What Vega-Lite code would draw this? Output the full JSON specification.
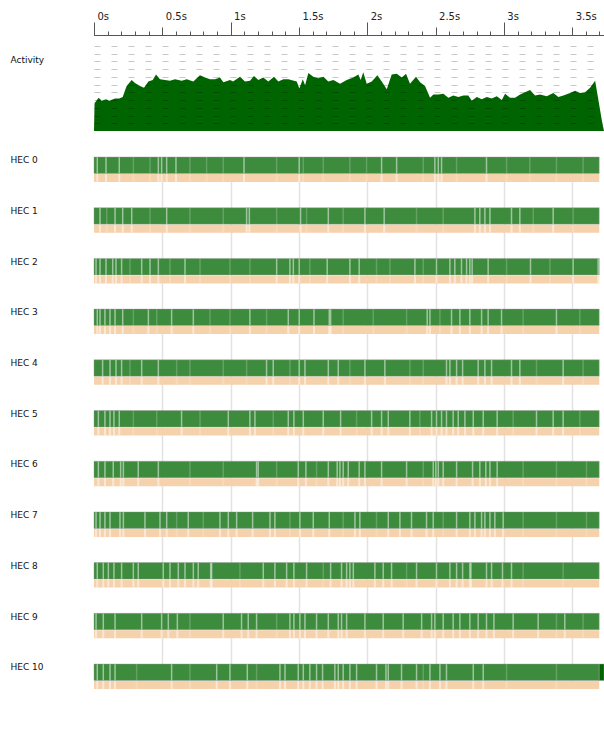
{
  "$schema": "https://vega.github.io/schema/vega-lite/v6.json",
  "autosize": {"type": "none"},
  "padding": {"left": 94, "top": 35, "right": 0, "bottom": 0},
  "width": 510,
  "height": 713,
  "background": "#ffffff",
  "config": {
    "view": {"stroke": null},
    "axis": {"labelFont": "DejaVu Sans", "titleFont": "DejaVu Sans", "labelColor": "#222222"}
  },
  "datasets": {
    "activity": [
      {"t":0,"v":0},{"t":0.004,"v":3.6},{"t":0.034,"v":4.3},{"t":0.056,"v":3.9},{"t":0.088,"v":4.1},{"t":0.112,"v":3.9},{"t":0.154,"v":4.2},{"t":0.185,"v":4.2},{"t":0.21,"v":4.4},{"t":0.239,"v":5.8},{"t":0.276,"v":6.6},{"t":0.30,"v":6.2},{"t":0.337,"v":5.8},{"t":0.366,"v":5.6},{"t":0.398,"v":6.4},{"t":0.43,"v":6.6},{"t":0.454,"v":7.3},{"t":0.483,"v":6.7},{"t":0.52,"v":6.6},{"t":0.556,"v":6.5},{"t":0.593,"v":6.7},{"t":0.642,"v":6.5},{"t":0.679,"v":6.7},{"t":0.727,"v":6.4},{"t":0.776,"v":7.2},{"t":0.813,"v":6.9},{"t":0.849,"v":6.7},{"t":0.886,"v":6.7},{"t":0.922,"v":6.9},{"t":0.947,"v":6.3},{"t":0.996,"v":6.6},{"t":1.018,"v":6.4},{"t":1.069,"v":7.0},{"t":1.105,"v":6.4},{"t":1.142,"v":6.5},{"t":1.171,"v":7.1},{"t":1.203,"v":6.6},{"t":1.239,"v":6.9},{"t":1.276,"v":6.4},{"t":1.318,"v":7.0},{"t":1.349,"v":6.4},{"t":1.386,"v":6.7},{"t":1.422,"v":6.7},{"t":1.484,"v":6.4},{"t":1.503,"v":5.5},{"t":1.528,"v":6.7},{"t":1.545,"v":5.9},{"t":1.569,"v":7.5},{"t":1.605,"v":7.0},{"t":1.642,"v":6.8},{"t":1.679,"v":7.0},{"t":1.715,"v":6.4},{"t":1.752,"v":6.6},{"t":1.801,"v":6.1},{"t":1.85,"v":6.6},{"t":1.898,"v":6.9},{"t":1.935,"v":7.3},{"t":1.952,"v":6.6},{"t":1.971,"v":7.6},{"t":1.996,"v":6.1},{"t":2.033,"v":6.4},{"t":2.074,"v":7.2},{"t":2.106,"v":6.4},{"t":2.143,"v":5.4},{"t":2.179,"v":7.3},{"t":2.216,"v":7.4},{"t":2.253,"v":6.9},{"t":2.284,"v":7.4},{"t":2.313,"v":6.1},{"t":2.357,"v":7.0},{"t":2.387,"v":6.3},{"t":2.423,"v":5.8},{"t":2.46,"v":4.3},{"t":2.484,"v":4.7},{"t":2.52,"v":4.7},{"t":2.557,"v":4.8},{"t":2.594,"v":4.3},{"t":2.63,"v":4.6},{"t":2.667,"v":4.4},{"t":2.704,"v":4.6},{"t":2.74,"v":4.6},{"t":2.765,"v":3.9},{"t":2.802,"v":4.4},{"t":2.838,"v":4.1},{"t":2.875,"v":4.4},{"t":2.911,"v":4.2},{"t":2.948,"v":4.5},{"t":2.985,"v":4.0},{"t":3.009,"v":4.8},{"t":3.045,"v":4.3},{"t":3.082,"v":4.3},{"t":3.119,"v":4.7},{"t":3.155,"v":5.0},{"t":3.192,"v":5.3},{"t":3.228,"v":4.6},{"t":3.265,"v":4.7},{"t":3.314,"v":4.5},{"t":3.362,"v":4.9},{"t":3.399,"v":4.4},{"t":3.436,"v":4.6},{"t":3.485,"v":4.9},{"t":3.521,"v":5.2},{"t":3.558,"v":4.9},{"t":3.594,"v":5.0},{"t":3.631,"v":5.6},{"t":3.668,"v":6.5},{"t":3.692,"v":4.0},{"t":3.717,"v":1.4},{"t":3.733,"v":0}
    ],
    "bars": [
      {"h":0,"start":0,"end":3.698,"state":"run"},{"h":1,"start":0,"end":3.698,"state":"run"},{"h":2,"start":0,"end":3.698,"state":"run"},{"h":3,"start":0,"end":3.698,"state":"run"},{"h":4,"start":0,"end":3.698,"state":"run"},{"h":5,"start":0,"end":3.698,"state":"run"},{"h":6,"start":0,"end":3.698,"state":"run"},{"h":7,"start":0,"end":3.698,"state":"run"},{"h":8,"start":0,"end":3.698,"state":"run"},{"h":9,"start":0,"end":3.698,"state":"run"},{"h":10,"start":0,"end":3.698,"state":"run"},{"h":10,"start":3.698,"end":3.733,"state":"busy"}
    ],
    "gaps": [
      {"h":0,"t":0.024,"s":1},{"h":0,"t":0.088,"s":1},{"h":0,"t":0.185,"s":1},{"h":0,"t":0.471,"s":1},{"h":0,"t":0.495,"s":1},{"h":0,"t":0.532,"s":1},{"h":0,"t":0.6,"s":1},{"h":0,"t":1.098,"s":1},{"h":0,"t":1.502,"s":1},{"h":0,"t":2.105,"s":1},{"h":0,"t":2.215,"s":1},{"h":0,"t":2.495,"s":1},{"h":0,"t":2.52,"s":1},{"h":0,"t":2.544,"s":1},{"h":0,"t":2.873,"s":1},
      {"h":0,"t":0.288,"s":0.4},{"h":0,"t":0.41,"s":0.4},{"h":0,"t":0.702,"s":0.4},{"h":0,"t":0.824,"s":0.4},{"h":0,"t":0.946,"s":0.4},{"h":0,"t":1.337,"s":0.4},{"h":0,"t":1.532,"s":0.4},{"h":0,"t":1.678,"s":0.4},{"h":0,"t":1.873,"s":0.4},{"h":0,"t":1.995,"s":0.4},{"h":0,"t":2.41,"s":0.4},{"h":0,"t":2.654,"s":0.4},{"h":0,"t":3.02,"s":0.4},{"h":0,"t":3.19,"s":0.4},{"h":0,"t":3.385,"s":0.4},{"h":0,"t":3.58,"s":0.4},
      {"h":1,"t":0.044,"s":1},{"h":1,"t":0.154,"s":1},{"h":1,"t":0.21,"s":1},{"h":1,"t":0.276,"s":1},{"h":1,"t":0.532,"s":1},{"h":1,"t":1.117,"s":1},{"h":1,"t":1.137,"s":1},{"h":1,"t":1.512,"s":1},{"h":1,"t":1.715,"s":1},{"h":1,"t":1.983,"s":1},{"h":1,"t":2.124,"s":1},{"h":1,"t":2.788,"s":1},{"h":1,"t":2.824,"s":1},{"h":1,"t":2.861,"s":1},{"h":1,"t":2.898,"s":1},{"h":1,"t":3.056,"s":1},{"h":1,"t":3.117,"s":1},{"h":1,"t":3.361,"s":1},
      {"h":1,"t":0.093,"s":0.4},{"h":1,"t":0.41,"s":0.4},{"h":1,"t":0.702,"s":0.4},{"h":1,"t":0.946,"s":0.4},{"h":1,"t":1.337,"s":0.4},{"h":1,"t":1.556,"s":0.4},{"h":1,"t":1.824,"s":0.4},{"h":1,"t":2.361,"s":0.4},{"h":1,"t":2.556,"s":0.4},{"h":1,"t":3.215,"s":0.4},{"h":1,"t":3.507,"s":0.4},
      {"h":2,"t":0.015,"s":1},{"h":2,"t":0.044,"s":1},{"h":2,"t":0.088,"s":1},{"h":2,"t":0.137,"s":1},{"h":2,"t":0.161,"s":1},{"h":2,"t":0.202,"s":1},{"h":2,"t":0.349,"s":1},{"h":2,"t":0.41,"s":1},{"h":2,"t":0.471,"s":1},{"h":2,"t":0.666,"s":1},{"h":2,"t":1.337,"s":1},{"h":2,"t":1.434,"s":1},{"h":2,"t":1.459,"s":1},{"h":2,"t":1.502,"s":1},{"h":2,"t":1.707,"s":1},{"h":2,"t":1.873,"s":1},{"h":2,"t":1.941,"s":1},{"h":2,"t":2.349,"s":1},{"h":2,"t":2.507,"s":1},{"h":2,"t":2.605,"s":1},{"h":2,"t":2.641,"s":1},{"h":2,"t":2.69,"s":1},{"h":2,"t":2.727,"s":1},{"h":2,"t":2.751,"s":1},{"h":2,"t":2.768,"s":1},{"h":2,"t":2.885,"s":1},{"h":2,"t":3.195,"s":1},{"h":2,"t":3.507,"s":1},{"h":2,"t":3.69,"s":1},
      {"h":2,"t":0.263,"s":0.4},{"h":2,"t":0.556,"s":0.4},{"h":2,"t":0.776,"s":0.4},{"h":2,"t":0.995,"s":0.4},{"h":2,"t":1.141,"s":0.4},{"h":2,"t":1.58,"s":0.4},{"h":2,"t":2.068,"s":0.4},{"h":2,"t":2.166,"s":0.4},{"h":2,"t":2.41,"s":0.4},{"h":2,"t":3.02,"s":0.4},{"h":2,"t":3.337,"s":0.4},
      {"h":3,"t":0.024,"s":1},{"h":3,"t":0.044,"s":1},{"h":3,"t":0.08,"s":1},{"h":3,"t":0.117,"s":1},{"h":3,"t":0.154,"s":1},{"h":3,"t":0.21,"s":1},{"h":3,"t":0.398,"s":1},{"h":3,"t":0.568,"s":1},{"h":3,"t":0.727,"s":1},{"h":3,"t":1.141,"s":1},{"h":3,"t":1.422,"s":1},{"h":3,"t":1.502,"s":1},{"h":3,"t":1.61,"s":1},{"h":3,"t":1.722,"s":1},{"h":3,"t":1.732,"s":1},{"h":3,"t":2.439,"s":1},{"h":3,"t":2.459,"s":1},{"h":3,"t":2.617,"s":1},{"h":3,"t":2.678,"s":1},{"h":3,"t":2.751,"s":1},{"h":3,"t":2.837,"s":1},{"h":3,"t":2.885,"s":1},{"h":3,"t":2.983,"s":1},{"h":3,"t":3.385,"s":1},
      {"h":3,"t":0.288,"s":0.4},{"h":3,"t":0.459,"s":0.4},{"h":3,"t":0.849,"s":0.4},{"h":3,"t":0.995,"s":0.4},{"h":3,"t":1.263,"s":0.4},{"h":3,"t":1.824,"s":0.4},{"h":3,"t":2.044,"s":0.4},{"h":3,"t":2.288,"s":0.4},{"h":3,"t":2.532,"s":0.4},{"h":3,"t":3.141,"s":0.4},{"h":3,"t":3.556,"s":0.4},
      {"h":4,"t":0.063,"s":1},{"h":4,"t":0.117,"s":1},{"h":4,"t":0.161,"s":1},{"h":4,"t":0.202,"s":1},{"h":4,"t":0.349,"s":1},{"h":4,"t":0.471,"s":1},{"h":4,"t":1.263,"s":1},{"h":4,"t":1.312,"s":1},{"h":4,"t":1.502,"s":1},{"h":4,"t":1.544,"s":1},{"h":4,"t":1.715,"s":1},{"h":4,"t":1.788,"s":1},{"h":4,"t":1.983,"s":1},{"h":4,"t":2.129,"s":1},{"h":4,"t":2.58,"s":1},{"h":4,"t":2.605,"s":1},{"h":4,"t":2.654,"s":1},{"h":4,"t":2.698,"s":1},{"h":4,"t":2.812,"s":1},{"h":4,"t":2.861,"s":1},{"h":4,"t":2.91,"s":1},{"h":4,"t":3.056,"s":1},{"h":4,"t":3.117,"s":1},{"h":4,"t":3.434,"s":1},
      {"h":4,"t":0.263,"s":0.4},{"h":4,"t":0.605,"s":0.4},{"h":4,"t":0.702,"s":0.4},{"h":4,"t":0.946,"s":0.4},{"h":4,"t":1.117,"s":0.4},{"h":4,"t":1.434,"s":0.4},{"h":4,"t":1.873,"s":0.4},{"h":4,"t":2.312,"s":0.4},{"h":4,"t":2.41,"s":0.4},{"h":4,"t":3.239,"s":0.4},{"h":4,"t":3.58,"s":0.4},
      {"h":5,"t":0.032,"s":1},{"h":5,"t":0.08,"s":1},{"h":5,"t":0.117,"s":1},{"h":5,"t":0.146,"s":1},{"h":5,"t":0.185,"s":1},{"h":5,"t":0.641,"s":1},{"h":5,"t":0.983,"s":1},{"h":5,"t":1.141,"s":1},{"h":5,"t":1.178,"s":1},{"h":5,"t":1.422,"s":1},{"h":5,"t":1.463,"s":1},{"h":5,"t":1.532,"s":1},{"h":5,"t":1.678,"s":1},{"h":5,"t":1.805,"s":1},{"h":5,"t":2.032,"s":1},{"h":5,"t":2.105,"s":1},{"h":5,"t":2.154,"s":1},{"h":5,"t":2.312,"s":1},{"h":5,"t":2.471,"s":1},{"h":5,"t":2.507,"s":1},{"h":5,"t":2.544,"s":1},{"h":5,"t":2.58,"s":1},{"h":5,"t":2.629,"s":1},{"h":5,"t":2.666,"s":1},{"h":5,"t":2.715,"s":1},{"h":5,"t":2.776,"s":1},{"h":5,"t":2.849,"s":1},{"h":5,"t":2.951,"s":1},{"h":5,"t":3.239,"s":1},{"h":5,"t":3.361,"s":1},{"h":5,"t":3.434,"s":1},
      {"h":5,"t":0.288,"s":0.4},{"h":5,"t":0.459,"s":0.4},{"h":5,"t":0.776,"s":0.4},{"h":5,"t":1.312,"s":0.4},{"h":5,"t":1.922,"s":0.4},{"h":5,"t":2.385,"s":0.4},{"h":5,"t":3.068,"s":0.4},{"h":5,"t":3.556,"s":0.4},
      {"h":6,"t":0.032,"s":1},{"h":6,"t":0.08,"s":1},{"h":6,"t":0.141,"s":1},{"h":6,"t":0.195,"s":1},{"h":6,"t":0.215,"s":1},{"h":6,"t":0.324,"s":1},{"h":6,"t":0.471,"s":1},{"h":6,"t":1.19,"s":1},{"h":6,"t":1.202,"s":1},{"h":6,"t":1.495,"s":1},{"h":6,"t":1.551,"s":1},{"h":6,"t":1.715,"s":1},{"h":6,"t":1.78,"s":1},{"h":6,"t":1.8,"s":1},{"h":6,"t":1.824,"s":1},{"h":6,"t":1.861,"s":1},{"h":6,"t":1.941,"s":1},{"h":6,"t":1.983,"s":1},{"h":6,"t":2.105,"s":1},{"h":6,"t":2.288,"s":1},{"h":6,"t":2.483,"s":1},{"h":6,"t":2.502,"s":1},{"h":6,"t":2.52,"s":1},{"h":6,"t":2.556,"s":1},{"h":6,"t":2.654,"s":1},{"h":6,"t":2.771,"s":1},{"h":6,"t":2.824,"s":1},{"h":6,"t":2.868,"s":1},{"h":6,"t":2.898,"s":1},{"h":6,"t":2.951,"s":1},
      {"h":6,"t":0.702,"s":0.4},{"h":6,"t":0.946,"s":0.4},{"h":6,"t":1.337,"s":0.4},{"h":6,"t":1.629,"s":0.4},{"h":6,"t":2.41,"s":0.4},{"h":6,"t":3.141,"s":0.4},{"h":6,"t":3.385,"s":0.4},{"h":6,"t":3.605,"s":0.4},
      {"h":7,"t":0.015,"s":1},{"h":7,"t":0.044,"s":1},{"h":7,"t":0.08,"s":1},{"h":7,"t":0.117,"s":1},{"h":7,"t":0.19,"s":1},{"h":7,"t":0.215,"s":1},{"h":7,"t":0.373,"s":1},{"h":7,"t":0.483,"s":1},{"h":7,"t":0.532,"s":1},{"h":7,"t":0.69,"s":1},{"h":7,"t":0.922,"s":1},{"h":7,"t":0.983,"s":1},{"h":7,"t":1.044,"s":1},{"h":7,"t":1.161,"s":1},{"h":7,"t":1.288,"s":1},{"h":7,"t":1.324,"s":1},{"h":7,"t":1.507,"s":1},{"h":7,"t":1.605,"s":1},{"h":7,"t":1.722,"s":1},{"h":7,"t":1.91,"s":1},{"h":7,"t":1.946,"s":1},{"h":7,"t":2.154,"s":1},{"h":7,"t":2.239,"s":1},{"h":7,"t":2.324,"s":1},{"h":7,"t":2.434,"s":1},{"h":7,"t":2.483,"s":1},{"h":7,"t":2.654,"s":1},{"h":7,"t":2.751,"s":1},{"h":7,"t":2.788,"s":1},{"h":7,"t":2.837,"s":1},{"h":7,"t":2.861,"s":1},{"h":7,"t":2.898,"s":1},{"h":7,"t":2.934,"s":1},{"h":7,"t":2.995,"s":1},
      {"h":7,"t":0.605,"s":0.4},{"h":7,"t":0.8,"s":0.4},{"h":7,"t":1.434,"s":0.4},{"h":7,"t":1.824,"s":0.4},{"h":7,"t":2.068,"s":0.4},{"h":7,"t":2.556,"s":0.4},{"h":7,"t":3.141,"s":0.4},{"h":7,"t":3.385,"s":0.4},{"h":7,"t":3.605,"s":0.4},
      {"h":8,"t":0.024,"s":1},{"h":8,"t":0.068,"s":1},{"h":8,"t":0.105,"s":1},{"h":8,"t":0.146,"s":1},{"h":8,"t":0.202,"s":1},{"h":8,"t":0.288,"s":1},{"h":8,"t":0.324,"s":1},{"h":8,"t":0.507,"s":1},{"h":8,"t":0.556,"s":1},{"h":8,"t":0.617,"s":1},{"h":8,"t":0.666,"s":1},{"h":8,"t":0.727,"s":1},{"h":8,"t":0.763,"s":1},{"h":8,"t":0.854,"s":1},{"h":8,"t":0.861,"s":1},{"h":8,"t":1.239,"s":1},{"h":8,"t":1.324,"s":1},{"h":8,"t":1.41,"s":1},{"h":8,"t":1.463,"s":1},{"h":8,"t":1.556,"s":1},{"h":8,"t":1.732,"s":1},{"h":8,"t":1.812,"s":1},{"h":8,"t":1.849,"s":1},{"h":8,"t":1.873,"s":1},{"h":8,"t":1.898,"s":1},{"h":8,"t":2.056,"s":1},{"h":8,"t":2.117,"s":1},{"h":8,"t":2.178,"s":1},{"h":8,"t":2.361,"s":1},{"h":8,"t":2.507,"s":1},{"h":8,"t":2.605,"s":1},{"h":8,"t":2.654,"s":1},{"h":8,"t":2.698,"s":1},{"h":8,"t":2.751,"s":1},{"h":8,"t":2.759,"s":1},{"h":8,"t":2.873,"s":1},{"h":8,"t":2.91,"s":1},{"h":8,"t":2.99,"s":1},{"h":8,"t":3.056,"s":1},
      {"h":8,"t":1.068,"s":0.4},{"h":8,"t":1.678,"s":0.4},{"h":8,"t":2.288,"s":0.4},{"h":8,"t":3.141,"s":0.4},{"h":8,"t":3.434,"s":0.4},
      {"h":9,"t":0.015,"s":1},{"h":9,"t":0.068,"s":1},{"h":9,"t":0.154,"s":1},{"h":9,"t":0.349,"s":1},{"h":9,"t":0.495,"s":1},{"h":9,"t":0.544,"s":1},{"h":9,"t":0.61,"s":1},{"h":9,"t":0.946,"s":1},{"h":9,"t":1.08,"s":1},{"h":9,"t":1.129,"s":1},{"h":9,"t":1.19,"s":1},{"h":9,"t":1.434,"s":1},{"h":9,"t":1.463,"s":1},{"h":9,"t":1.507,"s":1},{"h":9,"t":1.544,"s":1},{"h":9,"t":1.629,"s":1},{"h":9,"t":1.715,"s":1},{"h":9,"t":1.788,"s":1},{"h":9,"t":1.812,"s":1},{"h":9,"t":1.849,"s":1},{"h":9,"t":1.983,"s":1},{"h":9,"t":2.117,"s":1},{"h":9,"t":2.263,"s":1},{"h":9,"t":2.398,"s":1},{"h":9,"t":2.471,"s":1},{"h":9,"t":2.495,"s":1},{"h":9,"t":2.556,"s":1},{"h":9,"t":2.629,"s":1},{"h":9,"t":2.678,"s":1},{"h":9,"t":2.751,"s":1},{"h":9,"t":2.812,"s":1},{"h":9,"t":2.873,"s":1},{"h":9,"t":2.927,"s":1},{"h":9,"t":3.068,"s":1},{"h":9,"t":3.251,"s":1},{"h":9,"t":3.446,"s":1},
      {"h":9,"t":0.702,"s":0.4},{"h":9,"t":1.337,"s":0.4},{"h":9,"t":3.385,"s":0.4},{"h":9,"t":3.58,"s":0.4},
      {"h":10,"t":0.024,"s":1},{"h":10,"t":0.068,"s":1},{"h":10,"t":0.117,"s":1},{"h":10,"t":0.154,"s":1},{"h":10,"t":0.568,"s":1},{"h":10,"t":0.898,"s":1},{"h":10,"t":0.995,"s":1},{"h":10,"t":1.122,"s":1},{"h":10,"t":1.361,"s":1},{"h":10,"t":1.398,"s":1},{"h":10,"t":1.495,"s":1},{"h":10,"t":1.532,"s":1},{"h":10,"t":1.58,"s":1},{"h":10,"t":1.629,"s":1},{"h":10,"t":1.673,"s":1},{"h":10,"t":1.763,"s":1},{"h":10,"t":1.788,"s":1},{"h":10,"t":1.824,"s":1},{"h":10,"t":1.873,"s":1},{"h":10,"t":1.922,"s":1},{"h":10,"t":2.068,"s":1},{"h":10,"t":2.137,"s":1},{"h":10,"t":2.154,"s":1},{"h":10,"t":2.251,"s":1},{"h":10,"t":2.361,"s":1},{"h":10,"t":2.459,"s":1},{"h":10,"t":2.532,"s":1},{"h":10,"t":2.58,"s":1},{"h":10,"t":2.776,"s":1},{"h":10,"t":2.849,"s":1},
      {"h":10,"t":0.312,"s":0.4},{"h":10,"t":0.702,"s":0.4},{"h":10,"t":1.19,"s":0.4},{"h":10,"t":2.41,"s":0.4},{"h":10,"t":3.02,"s":0.4},{"h":10,"t":3.385,"s":0.4}
    ]
  },
  "resolve": {
    "scale": {"y": "independent"},
    "axis": {"x": "independent", "y": "independent"}
  },
  "layer": [
    {
      "data": {"name": "activity"},
      "mark": {"type": "area", "color": "#006400", "interpolate": "linear"},
      "encoding": {
        "x": {
          "field": "t", "type": "quantitative",
          "scale": {"domain": [0, 3.733], "nice": false, "zero": false},
          "axis": {
            "orient": "top", "title": null, "labels": false, "grid": false,
            "values": [0,0.1,0.2,0.3,0.4,0.5,0.6,0.7,0.8,0.9,1,1.1,1.2,1.3,1.4,1.5,1.6,1.7,1.8,1.9,2,2.1,2.2,2.3,2.4,2.5,2.6,2.7,2.8,2.9,3,3.1,3.2,3.3,3.4,3.5,3.6,3.7],
            "tickSize": 4, "tickColor": "#555555", "domainColor": "#555555", "domainWidth": 1
          }
        },
        "y": {
          "field": "v", "type": "quantitative",
          "scale": {"domain": [0, 12.4], "range": [96, 0], "nice": false, "zero": true},
          "axis": {
            "orient": "left", "labels": false, "ticks": false, "domain": false,
            "values": [1,2,3,4,5,6,7,8,9,10,11],
            "grid": true, "gridColor": "#000000", "gridOpacity": 0.22, "gridDash": [6, 11], "zindex": 1,
            "title": "Activity", "titleAngle": 0, "titleAlign": "left", "titleBaseline": "middle",
            "titleX": -84, "titleY": 24, "titleFontSize": 9, "titleFontWeight": "normal", "titleColor": "#111111"
          }
        }
      }
    },
    {
      "data": {"name": "bars"},
      "mark": {"type": "rect", "stroke": "#9a9a9a", "strokeWidth": 0.6, "strokeOpacity": 0.7},
      "encoding": {
        "x": {
          "field": "start", "type": "quantitative",
          "scale": {"domain": [0, 3.733], "nice": false, "zero": false},
          "axis": {
            "orient": "top", "title": null, "domain": false,
            "values": [0,0.5,1,1.5,2,2.5,3,3.5],
            "tickSize": 8, "tickColor": "#555555",
            "labelExpr": "datum.value + 's'", "labelAlign": "left", "labelBaseline": "alphabetic",
            "labelPadding": 8, "labelOffset": 3, "labelFontSize": 10, "labelFlush": false, "labelOverlap": false,
            "grid": true, "gridColor": "#e2e2e2", "gridWidth": 1.5,
            "gridOpacity": {"condition": {"test": "datum.value === 0", "value": 0}, "value": 1}
          }
        },
        "x2": {"field": "end"},
        "y": {
          "field": "h", "type": "ordinal",
          "scale": {"domain": [0,1,2,3,4,5,6,7,8,9,10], "range": [122, 645.5], "paddingInner": 0.675, "paddingOuter": 0},
          "axis": {
            "orient": "left", "title": null, "ticks": false, "tickSize": 0, "domain": false, "grid": false,
            "labelExpr": "'HEC ' + datum.value", "labelAlign": "left", "labelBaseline": "middle",
            "labelPadding": 84, "labelOffset": -5, "labelFontSize": 9, "labelColor": "#111111"
          }
        },
        "color": {
          "field": "state", "type": "nominal",
          "scale": {"domain": ["run", "busy"], "range": ["#3d8b3d", "#006400"]},
          "legend": null
        }
      }
    },
    {
      "data": {"name": "gaps"},
      "mark": {"type": "tick", "orient": "vertical", "thickness": 1.5, "size": 16, "color": "#ffffff"},
      "encoding": {
        "x": {"field": "t", "type": "quantitative", "scale": {"domain": [0, 3.733], "nice": false, "zero": false}, "axis": null},
        "y": {
          "field": "h", "type": "ordinal",
          "scale": {"domain": [0,1,2,3,4,5,6,7,8,9,10], "range": [122, 645.5], "paddingInner": 0.675, "paddingOuter": 0},
          "axis": null
        },
        "opacity": {"field": "s", "type": "quantitative", "scale": {"domain": [0, 1], "range": [0, 0.5]}, "legend": null}
      }
    },
    {
      "data": {"name": "bars"},
      "transform": [{"filter": "datum.state === 'run'"}],
      "mark": {"type": "rect", "color": "#f5d1ac"},
      "encoding": {
        "x": {
          "field": "start", "type": "quantitative",
          "scale": {"domain": [0, 3.733], "nice": false, "zero": false},
          "axis": {
            "orient": "top", "title": null, "domain": false, "labels": false, "grid": false,
            "values": [0,1,2,3], "tickSize": 13, "tickColor": "#555555"
          }
        },
        "x2": {"field": "end"},
        "y": {
          "field": "h", "type": "ordinal",
          "scale": {"domain": [0,1,2,3,4,5,6,7,8,9,10], "range": [139, 654], "paddingInner": 0.842, "paddingOuter": 0},
          "axis": null
        }
      }
    },
    {
      "data": {"name": "gaps"},
      "mark": {"type": "tick", "orient": "vertical", "thickness": 2, "size": 8, "color": "#ffffff"},
      "encoding": {
        "x": {"field": "t", "type": "quantitative", "scale": {"domain": [0, 3.733], "nice": false, "zero": false}, "axis": null},
        "y": {
          "field": "h", "type": "ordinal",
          "scale": {"domain": [0,1,2,3,4,5,6,7,8,9,10], "range": [139, 654], "paddingInner": 0.842, "paddingOuter": 0},
          "axis": null
        },
        "opacity": {"field": "s", "type": "quantitative", "scale": {"domain": [0, 1], "range": [0, 0.55]}, "legend": null}
      }
    }
  ]
}
